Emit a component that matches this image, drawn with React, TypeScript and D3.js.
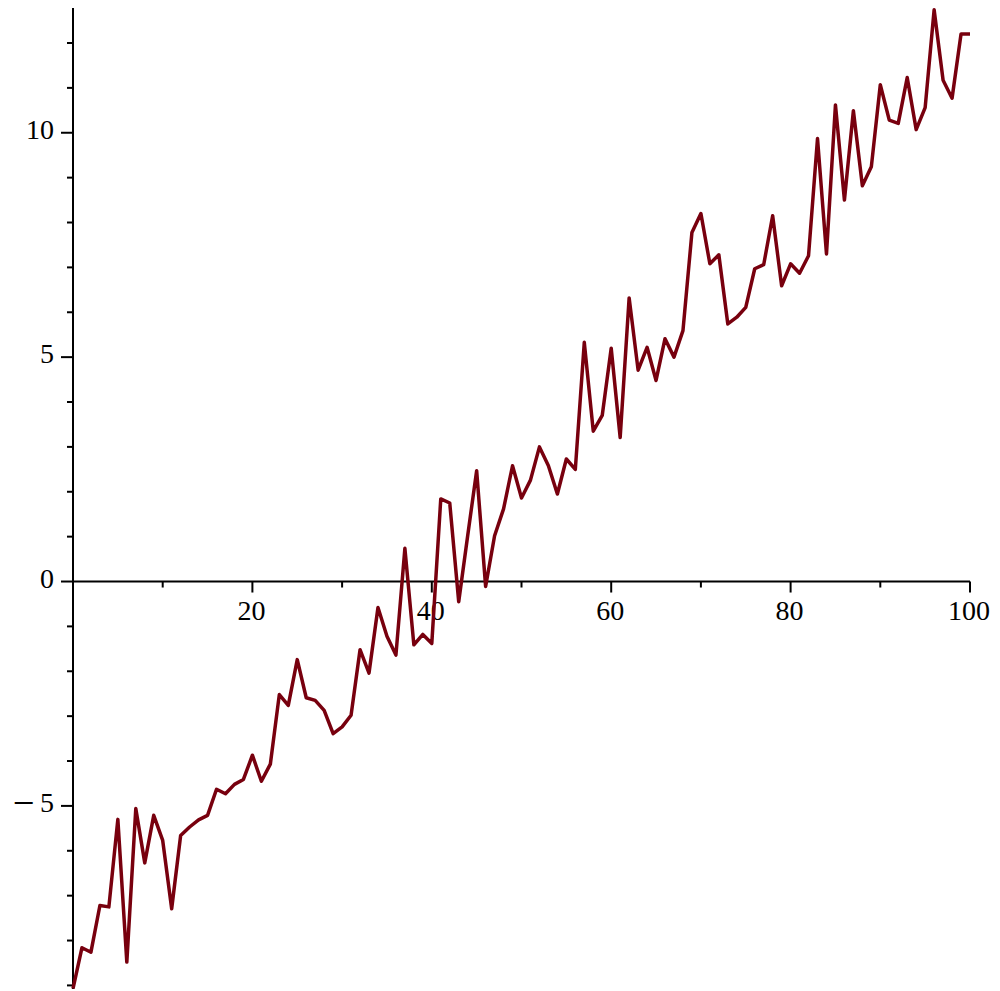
import React from "react";
import * as d3 from "d3";

const xValues: number[] = d3.range(0, 101);
const yValues: number[] = [
  -9.07, -8.16, -8.26, -7.22, -7.25, -5.30, -8.48, -5.06, -6.27, -5.21,
  -5.77, -7.29, -5.66, -5.47, -5.31, -5.21, -4.63, -4.73, -4.52, -4.41,
  -3.87, -4.45, -4.07, -2.52, -2.76, -1.74, -2.59, -2.65, -2.87, -3.39,
  -3.24, -2.98, -1.52, -2.04, -0.58, -1.22, -1.64, 0.74, -1.41, -1.18,
  -1.38, 1.84, 1.75, -0.45, 1.02, 2.47, -0.11, 1.02, 1.62, 2.58,
  1.86, 2.26, 3.00, 2.58, 1.95, 2.73, 2.50, 5.33, 3.35, 3.70,
  5.20, 3.21, 6.32, 4.71, 5.22, 4.48, 5.41, 5.00, 5.59, 7.78,
  8.20, 7.08, 7.28, 5.74, 5.89, 6.11, 6.97, 7.06, 8.15, 6.59,
  7.08, 6.87, 7.26, 9.87, 7.30, 10.62, 8.50, 10.49, 8.82, 9.24,
  11.07, 10.28, 10.21, 11.23, 10.07, 10.56, 12.74, 11.17, 10.77, 12.20,
  12.20,
];

const xMajorTicks: number[] = [20, 40, 60, 80, 100];
const xMinorTicks: number[] = [10, 30, 50, 70, 90];
const yMajorTicks: number[] = [-5, 0, 5, 10];
const yMajorLabels: string[] = ["5", "0", "5", "10"];
const yMinorTicks: number[] = [-9, -8, -7, -6, -4, -3, -2, -1, 1, 2, 3, 4, 6, 7, 8, 9, 11, 12];

const W = 1000;
const H = 991;
const FONT = "'Liberation Serif', 'Times New Roman', serif";
const LINE_COLOR = "#78000E";

export default function App() {
  const x = d3.scaleLinear().domain([0, 100]).range([73, 970]);
  const y = d3.scaleLinear().domain([-9.08, 12.78]).range([989, 8]);
  const line = d3
    .line<number>()
    .x((_, i) => x(xValues[i]))
    .y((d) => y(d));

  const x0 = x(0);
  const y0 = y(0);

  return (
    <div style={{ position: "absolute", left: 0, top: 0 }}>
      <svg width={W} height={H} viewBox={`0 0 ${W} ${H}`} style={{ display: "block", background: "#fff" }}>
        {/* axes */}
        <line x1={x0} x2={x(100)} y1={y0} y2={y0} stroke="#000" strokeWidth={2} />
        <line x1={x0} x2={x0} y1={y(12.78)} y2={y(-9.08)} stroke="#000" strokeWidth={2} />
        {/* x ticks */}
        {xMinorTicks.map((t) => (
          <line key={"xm" + t} x1={x(t)} x2={x(t)} y1={y0} y2={y0 + 6} stroke="#000" strokeWidth={2} />
        ))}
        {xMajorTicks.map((t) => (
          <g key={"xM" + t}>
            <line x1={x(t)} x2={x(t)} y1={y0} y2={y0 + 11} stroke="#000" strokeWidth={2} />
            <text x={x(t) - 1} y={y0 + 38} textAnchor="middle" fontFamily={FONT} fontSize={28} fill="#000">
              {String(t)}
            </text>
          </g>
        ))}
        {/* y ticks */}
        {yMinorTicks.map((t) => (
          <line key={"ym" + t} x1={x0 - 6} x2={x0} y1={y(t)} y2={y(t)} stroke="#000" strokeWidth={2} />
        ))}
        {yMajorTicks.map((t, i) => (
          <g key={"yM" + t}>
            <line x1={x0 - 12} x2={x0} y1={y(t)} y2={y(t)} stroke="#000" strokeWidth={2} />
            <text x={x0 - 19} y={y(t) + 6} textAnchor="end" fontFamily={FONT} fontSize={28} fill="#000">
              {yMajorLabels[i]}
            </text>
            {t < 0 && (
              <text
                x={x0 - 60}
                y={y(t) + 6}
                textLength={22}
                lengthAdjust="spacingAndGlyphs"
                fontFamily={FONT}
                fontSize={28}
                fontWeight="bold"
                fill="#000"
              >
                −
              </text>
            )}
          </g>
        ))}
        {/* data line */}
        <path d={line(yValues) || ""} fill="none" stroke={LINE_COLOR} strokeWidth={3.5} strokeLinejoin="round" />
      </svg>
    </div>
  );
}
